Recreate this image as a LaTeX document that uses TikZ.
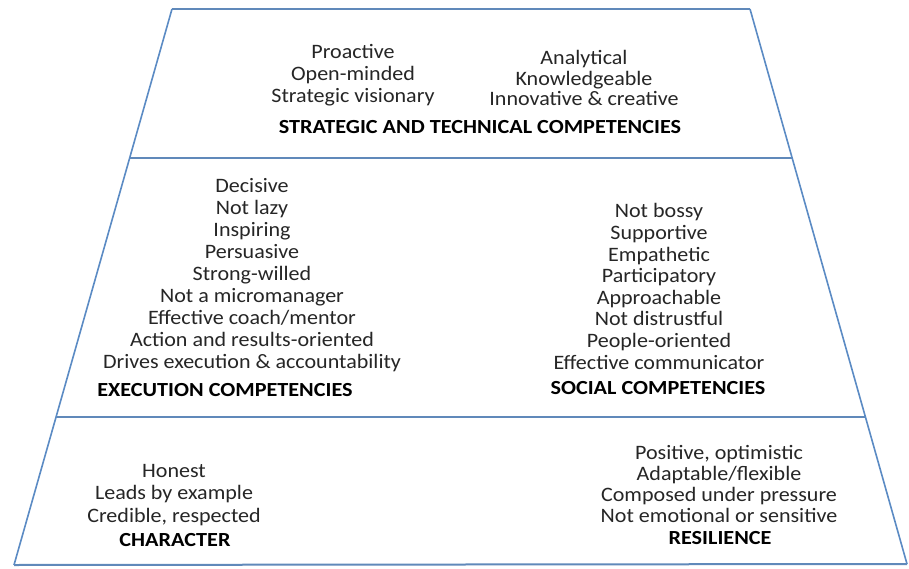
\documentclass[tikz,border=0pt]{standalone}
\usepackage{fontspec}
\setmainfont[FakeStretch=1.075]{Carlito}
\newfontfamily\titlefont[FakeStretch=1.11]{Carlito}
\begin{document}
\begin{tikzpicture}[x=1pt,y=-1pt,
  edge/.style={draw=lineblue,line width=1.6pt},
  hline/.style={draw=lineblue!85!gray,line width=2.4pt},
  txt/.style={align=center,text=black!85,inner sep=0pt,font=\fontsize{20.5}{22}\selectfont},
  ttl/.style={align=center,text=black,inner sep=0pt,font=\titlefont\fontsize{20}{22}\selectfont\bfseries}]
\definecolor{lineblue}{RGB}{91,139,196}
\useasboundingbox (0,0) rectangle (909,569);
\fill[white] (0,0) rectangle (909,569);
% corners
\coordinate (TL) at (172,9);
\coordinate (TR) at (750,9);
\coordinate (BL) at (14,565);
\coordinate (BR) at (907,564);
\coordinate (L1) at (129.7,158);
\coordinate (R1) at (792.3,158);
\coordinate (L2) at (56,417);
\coordinate (R2) at (866,417);
% frame
\draw[hline] (TL) -- (TR);
\draw[hline] (L1) -- (R1);
\draw[hline] (L2) -- (R2);
\draw[hline,line width=2pt] (BL) -- (BR);
\draw[edge] (TL) -- (BL);
\draw[edge] (TR) -- (BR);
% top layer
\node[txt] (topl) at (353,75) {Proactive\\Open-minded\\Strategic visionary};
\node[txt,font=\fontsize{20.5}{20.5}\selectfont] (topr) at (584,78) {Analytical\\Knowledgeable\\Innovative \& creative};
\node[ttl] (toptitle) at (480,127) {STRATEGIC AND TECHNICAL COMPETENCIES};
% middle layer
\node[txt] (midl) at (252,275.5) {Decisive\\Not lazy\\Inspiring\\Persuasive\\Strong-willed\\Not a micromanager\\Effective coach/mentor\\Action and results-oriented\\Drives execution \& accountability};
\node[ttl] (exec) at (225,390) {EXECUTION COMPETENCIES};
\node[txt,font=\fontsize{20.5}{21.6}\selectfont] (midr) at (659,286.5) {Not bossy\\Supportive\\Empathetic\\Participatory\\Approachable\\Not distrustful\\People-oriented\\Effective communicator};
\node[ttl] (social) at (658,388) {SOCIAL COMPETENCIES};
% bottom layer
\node[txt,font=\fontsize{20.5}{22.5}\selectfont] (botl) at (174,495) {Honest\\Leads by example\\Credible, respected};
\node[ttl] (char) at (175,540) {CHARACTER};
\node[txt,font=\fontsize{20.5}{21}\selectfont] (botr) at (719,484) {Positive, optimistic\\Adaptable/flexible\\Composed under pressure\\Not emotional or sensitive};
\node[ttl] (res) at (720,538) {RESILIENCE};
\end{tikzpicture}
\end{document}
